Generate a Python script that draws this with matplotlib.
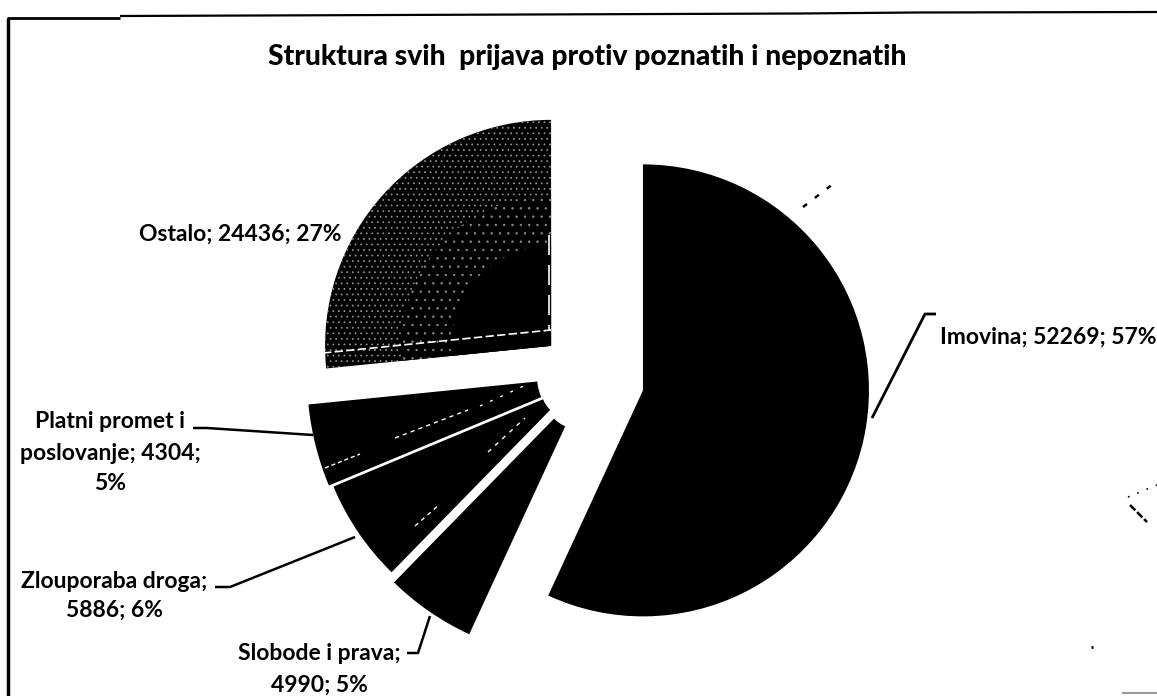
import matplotlib
matplotlib.use('Agg')
import matplotlib.pyplot as plt
from matplotlib.patches import Wedge

# values as printed on the chart labels
categories = ['Imovina', 'Slobode i prava', 'Zlouporaba droga', 'Platni promet i poslovanje', 'Ostalo']
values = [52269, 4990, 5886, 4304, 24436]
percents = [57, 5, 6, 5, 27]
title = 'Struktura svih  prijava protiv poznatih i nepoznatih'

plt.rcParams['font.family'] = ['Lato', 'DejaVu Sans']
plt.rcParams['hatch.linewidth'] = 0.5

H = 696
def yy(p):
	return H - p

fig = plt.figure(figsize=(11.57, 6.96), dpi=100)
ax = fig.add_axes([0, 0, 1, 1])

R = 226
# explode is in data units here since the radius is in pixels
wedges, _ = ax.pie(values, startangle=90, counterclock=False, radius=R,
	center=(586.6, yy(378)), explode=[57.7, 0, 0, 0, 47.9],
	colors=['black']*5, wedgeprops={'linewidth': 0})

# small slices are drawn larger and with cut tips in the original
for w, c, r, inner in [(wedges[1], (582, 390), 269, 40), (wedges[2], (572.6, 387), 259, 32), (wedges[3], (592, 376), 285, 55)]:
	w.set_center((c[0], yy(c[1])))
	w.set_radius(r)
	w.set_width(r - inner)

wedges[4].set_hatch('...')
wedges[4].set_edgecolor('#9a9a9a')
wedges[4].set_linewidth(0)

# the stipple fades out to solid black near the tip of the Ostalo slice
ost = wedges[4]
ax.add_patch(Wedge(ost.center, 150, ost.theta1, ost.theta2, facecolor='black', edgecolor='#8a8a8a', hatch='..', linewidth=0))
ax.add_patch(Wedge(ost.center, 100, ost.theta1, ost.theta2, facecolor='black', linewidth=0))

ax.set_aspect('auto')
ax.set_xlim(0, 1157)
ax.set_ylim(0, H)
ax.axis('off')

def line(xs, ys, **kw):
	kw.setdefault('color', 'black')
	kw.setdefault('lw', 1.8)
	ax.plot(xs, [yy(v) for v in ys], solid_capstyle='butt', **kw)

# frame
line([8, 8], [18, 696], lw=2.5)
line([7, 120], [18, 18], lw=2)
line([120, 800, 917, 1157], [16, 13.5, 12.5, 12], lw=1.6)

# leaders
line([872, 925, 936], [418, 314, 314], lw=2)
line([193, 207, 313], [428, 428, 435])
line([215, 230, 355], [587, 587, 537])
line([407, 418, 430], [653, 653, 616])

# white scan marks on the slices
line([323, 551], [353, 330], color='white', lw=1.2, ls=(0, (5, 2)))
line([549, 549], [235, 330], color='white', lw=1.2, ls=(0, (12, 6)))
line([325, 360], [468, 454], color='white', lw=1, ls=(0, (3, 2)))
line([395, 468], [438, 410], color='white', lw=1, ls=(0, (3, 3)))
line([480, 526], [406, 385], color='white', lw=1, ls=(0, (2, 6)))
line([415, 440], [526, 504], color='white', lw=1, ls=(0, (3, 3)))
line([488, 525], [452, 418], color='white', lw=1, ls=(0, (3, 4)))

# specks around the chart
line([803, 833], [207, 184], lw=1.8, ls=(0, (2, 4)))
line([1130, 1147], [505, 522], lw=1.8, ls=(0, (3, 1)))
line([1128, 1157], [497, 485], lw=1.2, ls=(0, (1, 5)))
line([1091, 1093], [647, 647], lw=2)
line([1122, 1157], [693, 693], color='#999999', lw=1.5)

fs = 16.5
def label(x, y, s, **kw):
	ax.text(x, yy(y), s, fontsize=fs, fontweight='bold', va='center', **kw)

ax.text(587, yy(57), title, fontsize=20.3, fontweight='black', ha='center', va='center')
label(940, 337, '%s; %d; %d%%' % (categories[0], values[0], percents[0]), ha='left')
label(240, 234, '%s; %d; %d%%' % (categories[4], values[4], percents[4]), ha='center')
label(110, 422, 'Platni promet i', ha='center')
label(110, 453, 'poslovanje; %d;' % values[3], ha='center')
label(110, 484, '%d%%' % percents[3], ha='center')
label(114, 581, categories[2] + ';', ha='center')
label(114, 610, '%d; %d%%' % (values[2], percents[2]), ha='center')
label(319, 653, categories[1] + ';', ha='center')
label(319, 685, '%d; %d%%' % (values[1], percents[1]), ha='center')

plt.savefig('out.png', dpi=100)
